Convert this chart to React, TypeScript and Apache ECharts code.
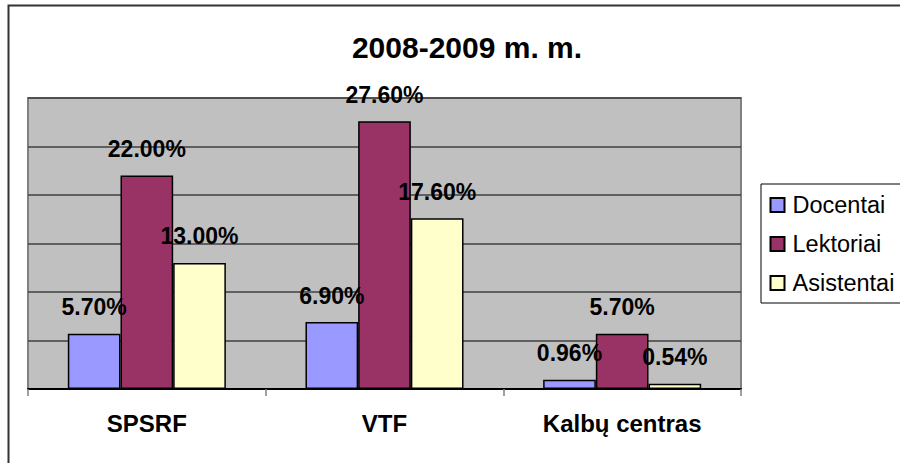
import React, { useEffect, useRef } from "react";
import * as echarts from "echarts";

const categories = ["SPSRF", "VTF", "Kalbų centras"];
const seriesNames = ["Docentai", "Lektoriai", "Asistentai"];
const docentai = [5.7, 6.9, 0.96];
const lektoriai = [22.0, 27.6, 5.7];
const asistentai = [13.0, 17.6, 0.54];
const colors = ["#9999FF", "#993366", "#FFFFCC"];
const titleText = "2008-2009 m. m.";

const FONT = "'Liberation Sans', Arial, sans-serif";

export default function App() {
  const ref = useRef<HTMLDivElement>(null);
  useEffect(() => {
    if (!ref.current) return;
    const chart = echarts.init(ref.current, undefined, { renderer: "svg" });
    const values = [docentai, lektoriai, asistentai];
    chart.setOption({
      animation: false,
      backgroundColor: "#ffffff",
      title: {
        text: titleText,
        left: 462,
        top: 27,
        textAlign: "center",
        textStyle: { fontFamily: FONT, fontWeight: "bold", fontSize: 30, color: "#000" },
      },
      graphic: [
        {
          type: "rect",
          silent: true,
          z: -10,
          shape: { x: 8.5, y: 5.5, width: 1000, height: 1000 },
          style: { fill: "none", stroke: "#333", lineWidth: 2 },
        },
        {
          type: "rect",
          silent: true,
          z: -5,
          shape: { x: 761, y: 184, width: 200, height: 119 },
          style: { fill: "#fff", stroke: "#000", lineWidth: 1 },
        },
      ],
      legend: {
        orient: "vertical",
        left: 761,
        top: 184,
        data: seriesNames,
        icon: "rect",
        itemWidth: 14,
        itemHeight: 14,
        itemGap: 12,
        padding: [7.5, 0, 6, 8.5],
        textStyle: { fontFamily: FONT, fontSize: 23.5, color: "#000", lineHeight: 27, padding: [0, 0, 0, 3] },
      },
      grid: {
        left: 28,
        top: 98,
        right: 159,
        bottom: 74,
        show: true,
        backgroundColor: "#C0C0C0",
        borderColor: "#808080",
        borderWidth: 2,
      },
      xAxis: {
        type: "category",
        data: categories,
        axisLine: { show: true, lineStyle: { color: "#000", width: 2 } },
        axisTick: { show: true, length: 7, interval: 0, lineStyle: { color: "#808080", width: 1.5 } },
        axisLabel: { fontFamily: FONT, fontWeight: "bold", fontSize: 24, color: "#000", margin: 22, interval: 0 },
      },
      yAxis: {
        type: "value",
        min: 0,
        max: 30,
        interval: 5,
        axisLabel: { show: false },
        axisLine: { show: false },
        axisTick: { show: false },
        splitLine: { show: true, lineStyle: { color: "#404040", width: 1.5 } },
      },
      series: seriesNames.map((name, i) => ({
        name,
        type: "bar",
        data: values[i],
        barGap: "0%",
        barCategoryGap: "33.5%",
        itemStyle: { color: colors[i], borderColor: "#000", borderWidth: 1.5 },
        label: {
          show: true,
          position: "top",
          distance: 15,
          fontFamily: FONT,
          fontWeight: "bold",
          fontSize: 23,
          color: "#000",
          formatter: (p: any) => Number(p.value).toFixed(2) + "%",
        },
      })),
    });
    return () => chart.dispose();
  }, []);
  return (
    <div
      ref={ref}
      style={{ position: "fixed", left: 0, top: 0, width: 900, height: 463 }}
    />
  );
}
